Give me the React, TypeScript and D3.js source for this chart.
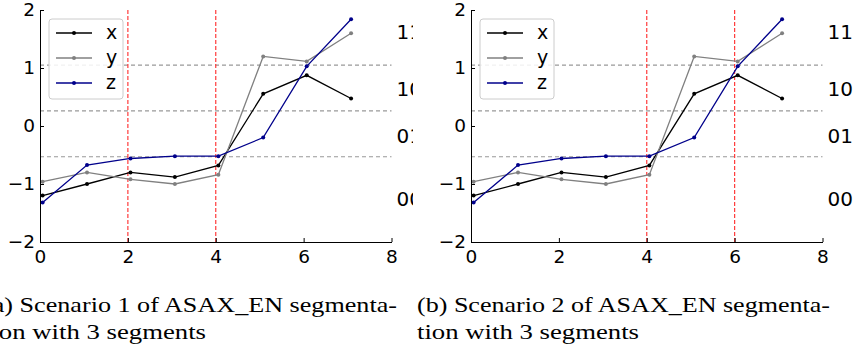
import React, { useEffect, useRef } from "react";
import * as d3 from "d3";

// sample positions (slightly right of integers)
const xs = [0.06, 1.07, 2.06, 3.07, 4.06, 5.08, 6.07, 7.08];
const seriesX = [-1.2, -1.0, -0.8, -0.88, -0.68, 0.554, 0.874, 0.474];
const seriesY = [-0.96, -0.8, -0.92, -1.0, -0.84, 1.2, 1.114, 1.6];
const seriesZ = [-1.32, -0.674, -0.56, -0.52, -0.52, -0.2, 1.029, 1.84];

const breakpoints = [1.05, 0.26, -0.53];
const symbols = ["11", "10", "01", "00"];
const symbolPos = [1.62, 0.63, -0.18, -1.26];

const segmentsA = [2, 4];
const segmentsB = [4, 6];

const captionA = ["(a) Scenario 1 of ASAX_EN segmenta-", "tion with 3 segments"];
const captionB = ["(b) Scenario 2 of ASAX_EN segmenta-", "tion with 3 segments"];

const xTicks = [0, 2, 4, 6, 8];
const yTicks = [-2, -1, 0, 1, 2];

const series = [
  { name: "x", values: seriesX, color: "#000000" },
  { name: "y", values: seriesY, color: "#808080" },
  { name: "z", values: seriesZ, color: "#00008b" },
];

const W = 856, H = 347;
const font = "DejaVu Sans, sans-serif";

const App = () => {
  const svgRef = useRef<SVGSVGElement>(null);

  useEffect(() => {
    const svg = d3.select(svgRef.current);
    svg.selectAll("*").remove();

    svg.append("defs").append("clipPath").attr("id", "clipA")
      .append("rect").attr("x", 0).attr("y", 0).attr("width", 413).attr("height", 280);

    const panels = [
      { left: 40, segs: segmentsA, caption: captionA, capX: -16, clip: "url(#clipA)" },
      { left: 471, segs: segmentsB, caption: captionB, capX: 417, clip: null },
    ];

    panels.forEach(p => {
      const x = d3.scaleLinear().domain([0, 8]).range([p.left, p.left + 351.5]);
      const y = d3.scaleLinear().domain([-2, 2]).range([242, 10]);

      const g = svg.append("g");
      if (p.clip) g.attr("clip-path", p.clip);

      // horizontal breakpoints
      g.selectAll(".bp").data(breakpoints).enter().append("line")
        .attr("x1", x(0)).attr("x2", x(8))
        .attr("y1", d => y(d)).attr("y2", d => y(d))
        .attr("stroke", "#999").attr("stroke-width", 1.2)
        .attr("stroke-dasharray", "4,3");

      // segment boundaries
      g.selectAll(".seg").data(p.segs).enter().append("line")
        .attr("x1", d => x(d)).attr("x2", d => x(d))
        .attr("y1", y(2)).attr("y2", y(-2))
        .attr("stroke", "#ff3b3b").attr("stroke-width", 1.2)
        .attr("stroke-dasharray", "4,2");

      const line = d3.line<number>().x((_, i) => x(xs[i])).y(d => y(d));
      series.forEach(s => {
        g.append("path").attr("d", line(s.values))
          .attr("fill", "none").attr("stroke", s.color).attr("stroke-width", 1.3);
        g.selectAll(null).data(s.values).enter().append("circle")
          .attr("cx", (_, i) => x(xs[i])).attr("cy", d => y(d)).attr("r", 2)
          .attr("fill", s.color);
      });

      // axes (left + bottom, ticks inward)
      const fmt = (d: d3.NumberValue) => (+d < 0 ? `\u2212${Math.abs(+d)}` : `${d}`);
      const ax = g.append("g").attr("transform", `translate(0,${y(-2)})`)
        .call(d3.axisBottom(x).tickValues(xTicks).tickSizeInner(-4).tickSizeOuter(0).tickPadding(6).tickFormat(fmt));
      const ay = g.append("g").attr("transform", `translate(${x(0)},0)`)
        .call(d3.axisLeft(y).tickValues(yTicks).tickSizeInner(-4).tickSizeOuter(0).tickPadding(5).tickFormat(fmt));
      [ax, ay].forEach(a => {
        a.selectAll("text").attr("font-family", font).attr("font-size", 18.5).attr("fill", "#000");
        a.select(".domain").attr("stroke", "#000");
      });
      ax.selectAll("text").attr("dy", "0.8em");

      // symbol labels on the right
      g.selectAll(".sym").data(symbols).enter().append("text")
        .attr("x", x(8) + 5).attr("y", (_, i) => y(symbolPos[i]))
        .attr("dy", "0.35em").attr("font-family", font).attr("font-size", 20)
        .text(d => d);

      // legend
      const lg = g.append("g").attr("transform", `translate(${p.left + 9},19)`);
      lg.append("rect").attr("width", 74).attr("height", 80).attr("rx", 3)
        .attr("fill", "#fff").attr("fill-opacity", 0.85)
        .attr("stroke", "#ccc").attr("stroke-width", 1);
      series.forEach((s, i) => {
        const yy = 14 + i * 25;
        lg.append("line").attr("x1", 7).attr("x2", 43).attr("y1", yy).attr("y2", yy)
          .attr("stroke", s.color).attr("stroke-width", 1.3);
        lg.append("circle").attr("cx", 25).attr("cy", yy).attr("r", 2).attr("fill", s.color);
        lg.append("text").attr("x", 57).attr("y", yy).attr("dy", "0.32em")
          .attr("font-family", font).attr("font-size", 19).text(s.name);
      });
    });

    // captions
    panels.forEach(p => {
      const widths = [413, 222];
      p.caption.forEach((t, i) => {
        svg.append("text").attr("x", p.capX).attr("y", 312 + i * 27)
          .attr("font-family", "Liberation Serif, serif").attr("font-size", 21)
          .attr("textLength", widths[i]).attr("lengthAdjust", "spacingAndGlyphs")
          .text(t);
      });
    });
  }, []);

  return (
    <svg ref={svgRef} width={W} height={H}
      style={{ position: "absolute", left: 0, top: 0, background: "#fff" }} />
  );
};

export default App;
